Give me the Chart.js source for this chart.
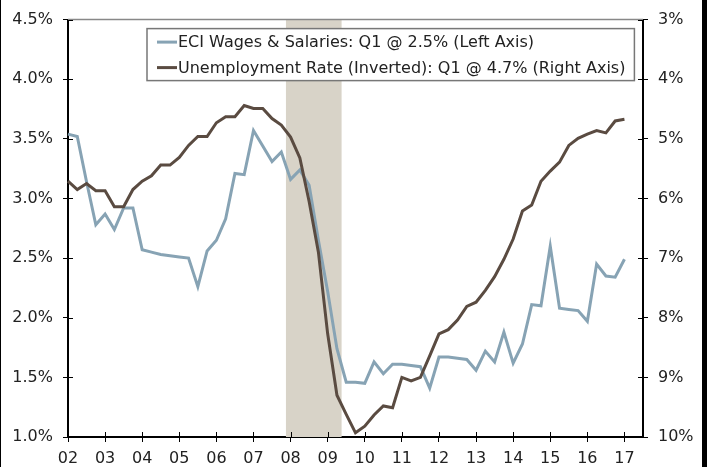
<!DOCTYPE html>
<html>
<head>
<meta charset="utf-8">
<script src="https://cdn.jsdelivr.net/npm/chart.js@4/dist/chart.umd.min.js"></script>
<style>
  body { margin: 0; background: #000; }
  #wrap { position: absolute; left: 1px; top: 0; width: 701px; height: 467px; background: #fff; }
</style>
</head>
<body>
<div id="wrap"><canvas id="chart"></canvas></div>
<script>
// quarters 2002Q1 .. 2017Q3 (axis runs two quarters past the last point)
const quarters = [];
for (let y = 2002; y <= 2017; y++) {
  for (let q = 1; q <= 4; q++) quarters.push(y + 'Q' + q);
}
quarters.length = 63;

const yearTicks = ['02', '03', '04', '05', '06', '07', '08', '09', '10', '11', '12', '13', '14', '15', '16', '17'];

// ECI wages & salaries, y/y % (left axis)
const eciWages = [
  3.54, 3.52, 3.14, 2.78, 2.87, 2.74, 2.92, 2.92, 2.57, 2.55, 2.53, 2.52,
  2.51, 2.50, 2.26, 2.56, 2.65, 2.83, 3.21, 3.20, 3.57, 3.44, 3.31, 3.39,
  3.16, 3.24, 3.11, 2.65, 2.22, 1.74, 1.46, 1.46, 1.45, 1.63, 1.53, 1.61,
  1.61, 1.60, 1.59, 1.41, 1.67, 1.67, 1.66, 1.65, 1.56, 1.72, 1.63, 1.88,
  1.62, 1.78, 2.11, 2.10, 2.60, 2.08, 2.07, 2.06, 1.97, 2.45, 2.35, 2.34,
  2.49
];

// unemployment rate, % (right axis, inverted)
const unemployment = [
  5.71, 5.85, 5.75, 5.87, 5.87, 6.14, 6.14, 5.85, 5.71, 5.62, 5.44, 5.44,
  5.31, 5.11, 4.96, 4.96, 4.73, 4.63, 4.63, 4.44, 4.49, 4.49, 4.66, 4.77,
  4.97, 5.32, 6.05, 6.90, 8.27, 9.30, 9.62, 9.93, 9.82, 9.63, 9.48, 9.51,
  9.00, 9.06, 9.00, 8.64, 8.27, 8.20, 8.04, 7.81, 7.74, 7.54, 7.31, 7.02,
  6.68, 6.21, 6.11, 5.71, 5.54, 5.39, 5.11, 4.99, 4.92, 4.86, 4.90, 4.70,
  4.67
];

// recession: Dec 2007 - Jun 2009
const recession = ['2007Q4', '2009Q2'];

const FONT = { family: 'DejaVu Sans', size: 16 };
const TEXT = '#222';

// shaded recession band behind the lines
const recessionBand = {
  id: 'recessionBand',
  beforeDatasetsDraw(chart) {
    const { ctx, chartArea, scales } = chart;
    const x0 = scales.x.getPixelForValue(quarters.indexOf(recession[0]) + 0.5);
    const x1 = scales.x.getPixelForValue(quarters.indexOf(recession[1]) + 0.5);
    ctx.save();
    ctx.fillStyle = '#d8d3c8';
    ctx.fillRect(x0, chartArea.top, x1 - x0, chartArea.bottom - chartArea.top);
    ctx.restore();
  }
};

// top frame line, inner halves of tick marks, boxed legend
const extras = {
  id: 'extras',
  afterDraw(chart) {
    const { ctx, chartArea, scales } = chart;
    ctx.save();
    ctx.strokeStyle = '#888';
    ctx.lineWidth = 1.5;
    ctx.beginPath();
    ctx.moveTo(chartArea.left, chartArea.top);
    ctx.lineTo(chartArea.right, chartArea.top);
    ctx.stroke();

    ctx.strokeStyle = '#000';
    ctx.lineWidth = 1;
    ctx.beginPath();
    scales.x.ticks.forEach(t => {
      const px = Math.round(scales.x.getPixelForValue(t.value)) + 0.5;
      ctx.moveTo(px, chartArea.bottom);
      ctx.lineTo(px, chartArea.bottom - 5);
    });
    scales.y.ticks.forEach(t => {
      const py = Math.round(scales.y.getPixelForValue(t.value)) + 0.5;
      ctx.moveTo(chartArea.left, py);
      ctx.lineTo(chartArea.left + 5, py);
    });
    scales.y1.ticks.forEach(t => {
      const py = Math.round(scales.y1.getPixelForValue(t.value)) + 0.5;
      ctx.moveTo(chartArea.right, py);
      ctx.lineTo(chartArea.right - 5, py);
    });
    ctx.stroke();

    // legend
    const sets = chart.data.datasets;
    ctx.font = FONT.size + 'px ' + FONT.family;
    const textW = Math.max(...sets.map(d => ctx.measureText(d.label).width));
    const bx = chartArea.left + 79, by = chartArea.top + 9;
    const bw = 31 + textW + 9, bh = 52;
    ctx.fillStyle = '#fff';
    ctx.fillRect(bx, by, bw, bh);
    ctx.strokeStyle = '#777';
    ctx.lineWidth = 1.5;
    ctx.strokeRect(bx, by, bw, bh);
    ctx.textBaseline = 'middle';
    sets.forEach((d, i) => {
      const cy = by + 13.5 + i * 25.5;
      ctx.strokeStyle = d.borderColor;
      ctx.lineWidth = 3;
      ctx.beginPath();
      ctx.moveTo(bx + 10, cy);
      ctx.lineTo(bx + 30, cy);
      ctx.stroke();
      ctx.fillStyle = TEXT;
      ctx.fillText(d.label, bx + 31, cy + 1);
    });
    ctx.restore();
  }
};

new Chart(document.getElementById('chart'), {
  type: 'line',
  data: {
    labels: quarters,
    datasets: [
      {
        label: 'ECI Wages & Salaries: Q1 @ 2.5% (Left Axis)',
        data: eciWages,
        yAxisID: 'y',
        borderColor: '#87a3b4',
        borderWidth: 3,
        pointRadius: 0,
        tension: 0,
        order: 1
      },
      {
        label: 'Unemployment Rate (Inverted): Q1 @ 4.7% (Right Axis)',
        data: unemployment,
        yAxisID: 'y1',
        borderColor: '#5a4b41',
        borderWidth: 3,
        pointRadius: 0,
        tension: 0,
        order: 0
      }
    ]
  },
  options: {
    responsive: true,
    maintainAspectRatio: false,
    animation: false,
    layout: { padding: { top: 15, left: 0, right: 0, bottom: 0 } },
    plugins: { legend: { display: false }, tooltip: { enabled: false } },
    scales: {
      x: {
        type: 'category',
        offset: false,
        grid: { drawOnChartArea: false, tickLength: 5, color: '#000' },
        border: { color: '#000', width: 2 },
        ticks: {
          autoSkip: false, maxRotation: 0, padding: 7, font: FONT, color: TEXT,
          callback: (v, i) => yearTicks[i]
        },
        afterBuildTicks: s => { s.ticks = s.ticks.filter(t => quarters[t.value].endsWith('Q1')); },
        afterFit: s => { s.height = 30; }
      },
      y: {
        position: 'left',
        min: 1, max: 4.5,
        grid: { drawOnChartArea: false, tickLength: 5, color: '#000' },
        border: { color: '#000', width: 2 },
        ticks: { stepSize: 0.5, padding: 10, font: FONT, color: TEXT, callback: v => v.toFixed(1) + '%' },
        afterFit: s => { s.width = 67; }
      },
      y1: {
        position: 'right',
        reverse: true,
        min: 3, max: 10,
        grid: { drawOnChartArea: false, tickLength: 5, color: '#000' },
        border: { color: '#000', width: 2 },
        ticks: { stepSize: 1, padding: 10, font: FONT, color: TEXT, callback: v => v + '%' },
        afterFit: s => { s.width = 59; }
      }
    }
  },
  plugins: [recessionBand, extras]
});
</script>
</body>
</html>
